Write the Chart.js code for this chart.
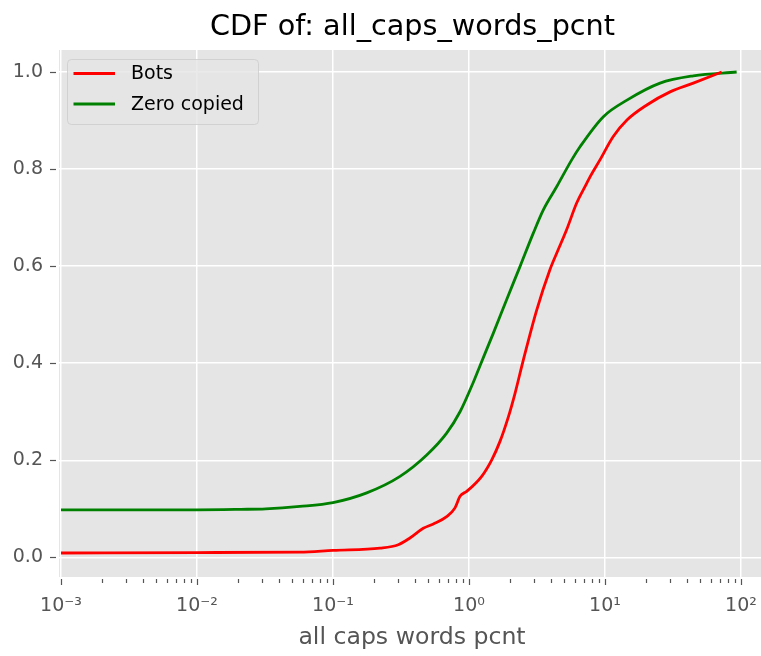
<!DOCTYPE html>
<html>
<head>
<meta charset="utf-8">
<script src="https://cdn.jsdelivr.net/npm/chart.js@4/dist/chart.umd.min.js"></script>
<style>
  html, body { margin: 0; padding: 0; background: #ffffff; }
  #wrap { width: 761px; height: 656px; position: relative; }
</style>
</head>
<body>
<div id="wrap"><canvas id="c" width="761" height="656"></canvas></div>
<script>
// ---- text ----
const chartTitle = 'CDF of: all_caps_words_pcnt';
const xAxisLabel = 'all caps words pcnt';
const seriesNames = ['Bots', 'Zero copied'];
const seriesColors = ['#ff0000', '#008000'];

// ---- tick labels ----
const xTickValues = [0.001, 0.01, 0.1, 1, 10, 100];
const xTickLabels = ['10\u207B\u00B3', '10\u207B\u00B2', '10\u207B\u00B9', '10\u2070', '10\u00B9', '10\u00B2'];
const yTickValues = [0.0, 0.2, 0.4, 0.6, 0.8, 1.0];

// ---- series: Bots ----
const botsX = [0.001, 0.01, 0.057, 0.1, 0.222, 0.302, 0.368, 0.461, 0.547, 0.685, 0.789, 0.859, 0.962, 1.24, 1.47, 1.69, 1.95, 2.18, 2.51, 3.15, 3.94, 4.42, 5.22, 6.19, 7.35, 7.76, 9.18, 11.5, 14.5, 20.3, 30.1, 44.6, 72.1];
const botsY = [0.009, 0.010, 0.011, 0.0145, 0.019, 0.026, 0.040, 0.060, 0.069, 0.084, 0.102, 0.126, 0.136, 0.167, 0.201, 0.239, 0.290, 0.338, 0.407, 0.510, 0.593, 0.627, 0.675, 0.730, 0.771, 0.784, 0.819, 0.867, 0.901, 0.932, 0.959, 0.977, 1.0];

// ---- series: Zero copied ----
const zeroX = [0.001, 0.01, 0.021, 0.032, 0.057, 0.1, 0.177, 0.311, 0.489, 0.685, 0.859, 1.08, 1.205, 1.51, 1.89, 2.37, 2.97, 3.52, 4.42, 5.69, 6.55, 9.73, 14.5, 25.4, 44.6, 92.9];
const zeroY = [0.098, 0.098, 0.099, 0.100, 0.105, 0.113, 0.133, 0.167, 0.211, 0.256, 0.300, 0.362, 0.395, 0.462, 0.531, 0.599, 0.668, 0.716, 0.764, 0.819, 0.846, 0.908, 0.942, 0.977, 0.992, 1.0];

// ---- build helpers ----
const FONT = '"DejaVu Sans", "Liberation Sans", sans-serif';
function pts(xs, ys) { return xs.map((x, i) => ({ x: x, y: ys[i] })); }
function isMajor(v) { const l = Math.log10(v); return Math.abs(l - Math.round(l)) < 1e-6; }
const xAllTicks = [];
xTickValues.forEach((d, i) => {
  xAllTicks.push(d);
  if (i < xTickValues.length - 1) for (let m = 2; m <= 9; m++) xAllTicks.push(d * m);
});

const decorPlugin = {
  id: 'decor',
  beforeDraw(chart) {
    const { ctx, chartArea: a } = chart;
    ctx.save();
    ctx.fillStyle = '#e5e5e5';
    ctx.fillRect(a.left, a.top, a.right - a.left, a.bottom - a.top);
    ctx.restore();
  },
  afterDraw(chart) {
    const { ctx, chartArea: a } = chart;
    const xs = chart.scales.x, ys = chart.scales.y;
    ctx.save();
    // tick marks
    ctx.strokeStyle = '#555555';
    ctx.lineWidth = 1.2;
    xAllTicks.forEach(v => {
      const px = Math.round(xs.getPixelForValue(v)) + 0.5;
      const maj = isMajor(v);
      ctx.beginPath();
      ctx.moveTo(px, a.bottom + 2);
      ctx.lineTo(px, a.bottom + (maj ? 8 : 6));
      ctx.stroke();
    });
    yTickValues.forEach(v => {
      const py = Math.round(ys.getPixelForValue(v)) + 0.5;
      ctx.beginPath();
      ctx.moveTo(a.left - 9, py);
      ctx.lineTo(a.left - 3, py);
      ctx.stroke();
    });
    // title
    ctx.fillStyle = '#000000';
    ctx.font = '28.7px ' + FONT;
    ctx.textAlign = 'center';
    ctx.textBaseline = 'alphabetic';
    ctx.fillText(chartTitle, 412.5, 35);
    // x label
    ctx.fillStyle = '#555555';
    ctx.font = '23.6px ' + FONT;
    ctx.fillText(xAxisLabel, 412, 644);
    // legend
    const lx = 67.5, ly = 59.5, lw = 191, lh = 65, r = 4;
    ctx.beginPath();
    ctx.moveTo(lx + r, ly);
    ctx.lineTo(lx + lw - r, ly);
    ctx.arcTo(lx + lw, ly, lx + lw, ly + r, r);
    ctx.lineTo(lx + lw, ly + lh - r);
    ctx.arcTo(lx + lw, ly + lh, lx + lw - r, ly + lh, r);
    ctx.lineTo(lx + r, ly + lh);
    ctx.arcTo(lx, ly + lh, lx, ly + lh - r, r);
    ctx.lineTo(lx, ly + r);
    ctx.arcTo(lx, ly, lx + r, ly, r);
    ctx.closePath();
    ctx.fillStyle = 'rgba(229,229,229,0.8)';
    ctx.fill();
    ctx.strokeStyle = 'rgba(204,204,204,0.8)';
    ctx.lineWidth = 1;
    ctx.stroke();
    const rows = [73.5, 104];
    ctx.font = '19px ' + FONT;
    ctx.textAlign = 'left';
    ctx.textBaseline = 'middle';
    chart.data.datasets.forEach((ds, i) => {
      ctx.strokeStyle = ds.borderColor;
      ctx.lineWidth = 2.8;
      ctx.beginPath();
      ctx.moveTo(73.5, rows[i]);
      ctx.lineTo(115, rows[i]);
      ctx.stroke();
      ctx.fillStyle = '#000000';
      ctx.fillText(ds.label, 131, rows[i] + 1);
    });
    ctx.restore();
  }
};

new Chart(document.getElementById('c'), {
  type: 'line',
  data: {
    datasets: [
      { label: seriesNames[0], data: pts(botsX, botsY), borderColor: seriesColors[0], backgroundColor: seriesColors[0], borderWidth: 2.8, pointRadius: 0, cubicInterpolationMode: 'monotone', fill: false },
      { label: seriesNames[1], data: pts(zeroX, zeroY), borderColor: seriesColors[1], backgroundColor: seriesColors[1], borderWidth: 2.8, pointRadius: 0, cubicInterpolationMode: 'monotone', fill: false }
    ]
  },
  options: {
    responsive: false,
    animation: false,
    events: [],
    layout: { padding: { top: 50, right: 0, bottom: 0, left: 0 }, autoPadding: false },
    plugins: { legend: { display: false }, title: { display: false }, tooltip: { enabled: false } },
    scales: {
      x: {
        type: 'logarithmic',
        position: 'bottom',
        min: Math.pow(10, -3.0147),
        max: Math.pow(10, 2.147),
        afterBuildTicks: s => { s.ticks = xAllTicks.map(v => ({ value: v })); },
        afterFit: s => { s.height = 79; s.paddingLeft = 0; s.paddingRight = 0; },
        ticks: {
          autoSkip: false, maxRotation: 0, minRotation: 0,
          color: '#555555', font: { size: 19, family: FONT }, padding: 18,
          callback: v => { const i = xTickValues.findIndex(t => Math.abs(Math.log10(t) - Math.log10(v)) < 1e-6); return i >= 0 ? xTickLabels[i] : ''; }
        },
        grid: { drawTicks: false, lineWidth: 1.5, color: c => (c.tick && isMajor(c.tick.value)) ? '#ffffff' : 'rgba(0,0,0,0)' },
        border: { display: false }
      },
      y: {
        type: 'linear',
        position: 'left',
        min: -0.0404,
        max: 1.0453,
        afterBuildTicks: s => { s.ticks = yTickValues.map(v => ({ value: v })); },
        afterFit: s => { s.width = 59; s.paddingTop = 0; s.paddingBottom = 0; },
        ticks: {
          color: '#555555', font: { size: 19, family: FONT }, padding: 16,
          callback: v => Number(v).toFixed(1)
        },
        grid: { drawTicks: false, lineWidth: 1.5, color: '#ffffff' },
        border: { display: false }
      }
    }
  },
  plugins: [decorPlugin]
});
</script>
</body>
</html>
